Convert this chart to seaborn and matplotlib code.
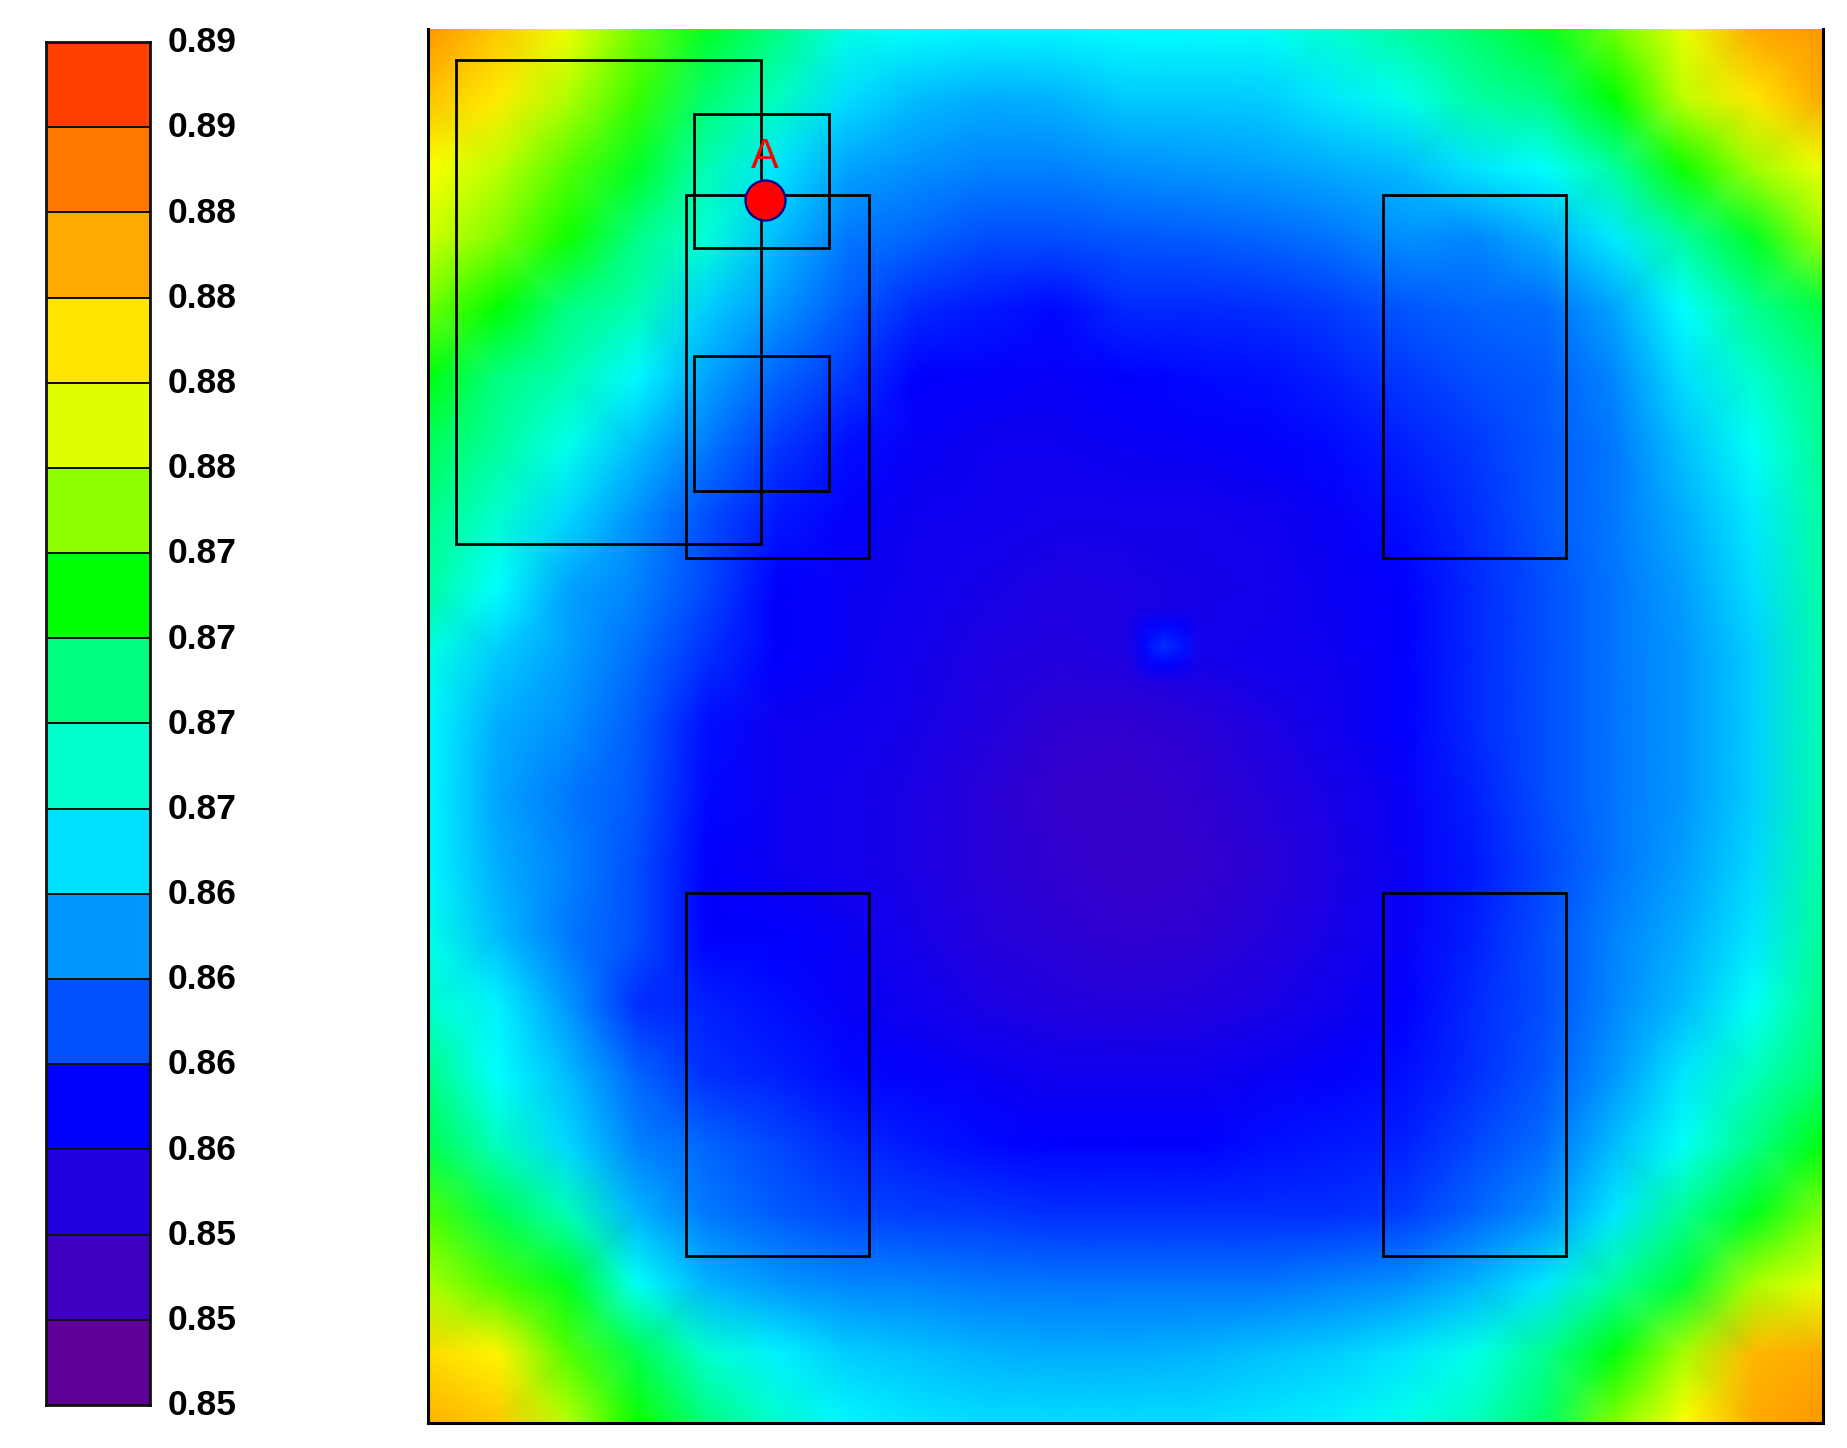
import numpy as np
import matplotlib
matplotlib.use("Agg")
import matplotlib.pyplot as plt
import seaborn as sns
from matplotlib.colors import LinearSegmentedColormap, ListedColormap
from matplotlib.patches import Rectangle
from matplotlib.transforms import ScaledTranslation

# colour legend, top to bottom
BAND_VALUES = [0.88675, 0.88425, 0.88175, 0.87925, 0.87675, 0.87425, 0.87175, 0.86925,
               0.86675, 0.86425, 0.86175, 0.85925, 0.85675, 0.85425, 0.85175, 0.84925]
BAND_LABELS = ["0.89", "0.89", "0.88", "0.88", "0.88", "0.88", "0.87", "0.87", "0.87",
               "0.87", "0.86", "0.86", "0.86", "0.86", "0.85", "0.85", "0.85"]
BAND_COLOURS = ["#FF4000", "#FF7800", "#FFAA00", "#FFE600", "#DFFF00", "#8FFF00", "#00FF00", "#00FF80",
                "#00FFCC", "#00DFFF", "#0098FF", "#0050FF", "#0000FF", "#2000DF", "#3F00BF", "#5F0098"]
VMIN, VMAX = 0.848, 0.888

# field, in 1e-4 units, one row per node from the top
FIELD = [
    [8827, 8805, 8775, 8737, 8710, 8692, 8662, 8655, 8652, 8652, 8655, 8655, 8657, 8667, 8682, 8697, 8710, 8737, 8772, 8817, 8827],
    [8807, 8790, 8752, 8727, 8695, 8672, 8642, 8630, 8625, 8627, 8635, 8635, 8637, 8647, 8660, 8680, 8692, 8717, 8757, 8792, 8817],
    [8782, 8757, 8732, 8710, 8675, 8645, 8622, 8615, 8610, 8610, 8615, 8617, 8620, 8625, 8630, 8645, 8655, 8682, 8720, 8747, 8775],
    [8762, 8740, 8720, 8690, 8665, 8630, 8607, 8600, 8592, 8592, 8595, 8597, 8600, 8605, 8615, 8612, 8625, 8647, 8682, 8710, 8747],
    [8737, 8717, 8692, 8675, 8637, 8617, 8597, 8580, 8575, 8570, 8580, 8580, 8582, 8587, 8595, 8600, 8602, 8622, 8655, 8687, 8705],
    [8715, 8692, 8675, 8652, 8622, 8600, 8585, 8567, 8565, 8562, 8567, 8570, 8572, 8577, 8585, 8592, 8597, 8612, 8642, 8667, 8692],
    [8700, 8682, 8660, 8630, 8607, 8585, 8572, 8562, 8557, 8557, 8560, 8562, 8565, 8570, 8577, 8585, 8595, 8607, 8632, 8657, 8687],
    [8690, 8667, 8640, 8615, 8592, 8575, 8565, 8557, 8555, 8552, 8552, 8552, 8555, 8562, 8572, 8582, 8595, 8607, 8625, 8647, 8682],
    [8682, 8655, 8622, 8610, 8590, 8567, 8560, 8555, 8550, 8545, 8547, 8550, 8552, 8560, 8567, 8580, 8592, 8605, 8620, 8642, 8680],
    [8662, 8635, 8620, 8602, 8582, 8567, 8560, 8552, 8545, 8542, 8545, 8552, 8555, 8557, 8567, 8580, 8592, 8605, 8617, 8637, 8677],
    [8652, 8625, 8615, 8597, 8572, 8557, 8555, 8550, 8542, 8532, 8530, 8535, 8545, 8555, 8567, 8580, 8592, 8605, 8617, 8637, 8677],
    [8652, 8622, 8607, 8595, 8570, 8557, 8552, 8547, 8537, 8527, 8525, 8530, 8540, 8550, 8562, 8577, 8592, 8605, 8617, 8637, 8677],
    [8652, 8625, 8610, 8592, 8567, 8557, 8552, 8547, 8537, 8530, 8525, 8527, 8535, 8547, 8560, 8575, 8590, 8605, 8620, 8640, 8680],
    [8660, 8630, 8607, 8592, 8567, 8567, 8560, 8550, 8540, 8535, 8530, 8532, 8540, 8550, 8562, 8577, 8592, 8610, 8625, 8645, 8685],
    [8667, 8650, 8617, 8582, 8577, 8572, 8562, 8555, 8547, 8542, 8540, 8542, 8547, 8555, 8567, 8580, 8592, 8612, 8630, 8657, 8690],
    [8690, 8655, 8630, 8600, 8582, 8577, 8570, 8565, 8560, 8555, 8555, 8555, 8560, 8565, 8572, 8582, 8595, 8617, 8645, 8672, 8697],
    [8702, 8672, 8640, 8610, 8600, 8590, 8580, 8575, 8570, 8567, 8567, 8567, 8572, 8575, 8577, 8590, 8602, 8630, 8657, 8690, 8715],
    [8730, 8702, 8675, 8627, 8607, 8597, 8590, 8587, 8585, 8582, 8582, 8582, 8582, 8582, 8587, 8600, 8615, 8645, 8687, 8712, 8740],
    [8750, 8730, 8712, 8657, 8627, 8617, 8612, 8610, 8607, 8605, 8605, 8605, 8605, 8610, 8615, 8627, 8645, 8682, 8707, 8750, 8772],
    [8797, 8787, 8732, 8702, 8667, 8650, 8637, 8632, 8627, 8625, 8625, 8627, 8632, 8637, 8645, 8660, 8687, 8715, 8750, 8812, 8817],
    [8815, 8805, 8755, 8720, 8692, 8667, 8652, 8645, 8642, 8642, 8642, 8642, 8645, 8650, 8660, 8672, 8697, 8740, 8782, 8817, 8827],
]

# small warm spot near the middle, same units; its rim follows the field around it
SPOT = [
    [8546, 8547, 8548, 8549, 8551],
    [8544, 8562, 8570, 8564, 8550],
    [8542, 8570, 8582, 8573, 8548],
    [8540, 8558, 8568, 8560, 8547],
    [8538, 8540, 8541, 8543, 8545],
]

# outlines on the field: x0, x1, y0, y1 in node units
OUTLINES = [
    (0.405, 4.776, 0.439, 7.39),
    (3.814, 5.755, 1.215, 3.139),
    (3.814, 5.755, 4.692, 6.633),
    (3.696, 6.329, 2.38, 7.595),
    (13.69, 16.32, 2.38, 7.595),
    (3.696, 6.329, 12.39, 17.60),
    (13.69, 16.32, 12.39, 17.60),
]
POINT_X = [4.827]
POINT_Y = [2.46]
POINT_LABEL = "A"

W, H = 1847, 1448
fig = plt.figure(figsize=(W / 100, H / 100), dpi=100, facecolor="white")


def px_axes(left, top, right, bottom):
    return fig.add_axes([left / W, 1 - bottom / H, (right - left) / W, (bottom - top) / H])


# ── legend ──
ax_leg = px_axes(46, 42, 150, 1405)
sns.heatmap(
    np.array(BAND_VALUES).reshape(-1, 1),
    ax=ax_leg,
    cmap=ListedColormap(BAND_COLOURS[::-1]),
    vmin=VMIN, vmax=VMAX,
    cbar=False, xticklabels=False,
    linewidths=1.4, linecolor="#111111",
)
for s in ax_leg.spines.values():
    s.set_visible(True)
    s.set_linewidth(2)
    s.set_color("#111111")
ax_leg.yaxis.tick_right()
ax_leg.set_yticks(np.arange(len(BAND_LABELS)))
ax_leg.set_yticklabels(BAND_LABELS, rotation=0, fontfamily="Liberation Sans",
                       fontweight="bold", fontsize=25.5, color="black")
ax_leg.tick_params(axis="y", length=0, pad=13)
nudge = ScaledTranslation(0, 2 / 72, fig.dpi_scale_trans)
for lab in ax_leg.get_yticklabels():
    lab.set_transform(lab.get_transform() + nudge)

# ── field ──
nodes = [((v + 0.5) / 16, c) for v, c in enumerate(BAND_COLOURS[::-1])]
nodes += [(7.0 / 16, "#00FFFF"), (12.1 / 16, "#FFFF00")]
nodes = [(0.0, BAND_COLOURS[-1])] + sorted(nodes) + [(1.0, BAND_COLOURS[0])]
field_cmap = LinearSegmentedColormap.from_list("field", nodes, N=512)

ax = px_axes(428, 29, 1823, 1423)
sns.heatmap(
    np.array(FIELD) / 1e4,
    ax=ax,
    cmap=field_cmap,
    vmin=VMIN, vmax=VMAX,
    cbar=False, xticklabels=False, yticklabels=False,
    shading="gouraud",
)
for x0, x1, y0, y1 in OUTLINES:
    ax.add_patch(Rectangle((x0, y0), x1 - x0, y1 - y0, fill=False, edgecolor="black", linewidth=2, zorder=3))

sns.scatterplot(x=POINT_X, y=POINT_Y, ax=ax, s=830, color="#FF0000",
                edgecolor="#000090", linewidth=1.6, legend=False, zorder=4)
ax.text(POINT_X[0], POINT_Y[0] - 0.62, POINT_LABEL, color="#FF0000", fontsize=30,
        fontfamily="Liberation Sans", ha="center", va="center", zorder=5)

ax.set_xlim(0, 20)
ax.set_ylim(20, 0)
ax.set_xlabel("")
ax.set_ylabel("")
for name, s in ax.spines.items():
    s.set_visible(name != "top")
    s.set_linewidth(2.2)
    s.set_color("black")

# warm spot, drawn on its own little axes over the field
ax_spot = px_axes(1124, 606, 1204, 686)
sns.heatmap(
    np.array(SPOT) / 1e4,
    ax=ax_spot,
    cmap=field_cmap,
    vmin=VMIN, vmax=VMAX,
    cbar=False, xticklabels=False, yticklabels=False,
    shading="gouraud",
)
ax_spot.set_xlim(0, 4)
ax_spot.set_ylim(4, 0)
ax_spot.set_axis_off()

fig.savefig("out.png", dpi=100)
